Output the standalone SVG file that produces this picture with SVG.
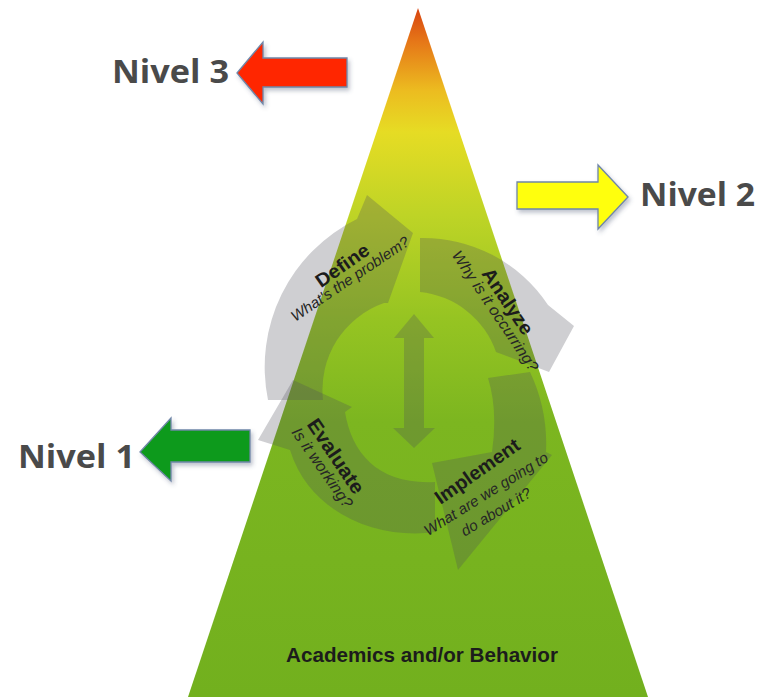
<svg xmlns="http://www.w3.org/2000/svg" width="762" height="698" viewBox="0 0 762 698">
<defs>
<linearGradient id="pyr" gradientUnits="userSpaceOnUse" x1="0" y1="8" x2="0" y2="697">
<stop offset="0" stop-color="#d84410"/>
<stop offset="0.05" stop-color="#e67818"/>
<stop offset="0.12" stop-color="#ecbc20"/>
<stop offset="0.18" stop-color="#e6dc24"/>
<stop offset="0.30" stop-color="#bed426"/>
<stop offset="0.45" stop-color="#96c422"/>
<stop offset="0.60" stop-color="#7cb620"/>
<stop offset="1" stop-color="#72b01e"/>
</linearGradient>
<filter id="sh" x="-20%" y="-30%" width="140%" height="160%">
<feDropShadow dx="2" dy="3" stdDeviation="2" flood-color="#405070" flood-opacity="0.35"/>
</filter>
</defs>
<style>
.cyc{fill:#4c4c58;fill-opacity:0.27}
.lvl{font-family:"Open Sans","Liberation Sans",sans-serif;font-weight:700;font-size:32px;fill:#4a4a4a}
.ttl{font-family:"Liberation Sans",Arial,sans-serif;font-weight:700;fill:#1c1c1c;text-anchor:middle}
.sub{font-family:"Liberation Sans",Arial,sans-serif;font-style:italic;fill:#262626;text-anchor:middle}
.big{stroke:#6f86a8;stroke-width:1.3;filter:url(#sh)}
</style>
<rect width="762" height="698" fill="#ffffff"/>
<g id="pyramid">
<polygon points="418,8 648,697 188,697" fill="url(#pyr)"/>
<text class="ttl" x="422" y="662" font-size="21" textLength="272" lengthAdjust="spacingAndGlyphs">Academics and/or Behavior</text>
</g>
<g id="connectors">
<path id="arrow-define" class="cyc" d="M268,400 A165,165 0 0 1 357,219 L367,195 L413,233 L388,303 L384,303 A92,92 0 0 0 323,400 Z"/>
<path id="arrow-analyze" class="cyc" d="M420,238 A150,150 0 0 1 548,305 L574,326 L549,372 L496,352 A90,90 0 0 0 420,292 Z"/>
<path id="arrow-implement" class="cyc" d="M530,372 Q548,410 546,452 L552,455 L458,570 L432,463 L492,452 Q498,410 488,378 Z"/>
<path id="arrow-evaluate" class="cyc" d="M435,532 C380,540 310,515 290,450 L258,440 L293,380 L352,407 L345,412 C352,455 380,485 435,482 Z"/>
<path id="arrow-center" class="cyc" d="M414,314 L434,338 L424,338 L424,428 L435,428 L414,448 L393,428 L404,428 L404,338 L394,338 Z"/>
</g>
<g id="node-define">
<text class="ttl" font-size="19" transform="translate(342,265) rotate(-35)" y="7" textLength="61" lengthAdjust="spacingAndGlyphs">Define</text>
<text class="sub" font-size="15" transform="translate(350,279) rotate(-34)" y="5" textLength="139" lengthAdjust="spacingAndGlyphs">What's the problem?</text>
</g>
<g id="node-analyze">
<text class="ttl" font-size="19.5" transform="translate(508,301) rotate(56)" y="7" textLength="76" lengthAdjust="spacingAndGlyphs">Analyze</text>
<text class="sub" font-size="15.5" transform="translate(495,311) rotate(56)" y="5" textLength="142" lengthAdjust="spacingAndGlyphs">Why is it occurring?</text>
</g>
<g id="node-evaluate">
<text class="ttl" font-size="20" transform="translate(336,456) rotate(56)" y="7" textLength="86" lengthAdjust="spacingAndGlyphs">Evaluate</text>
<text class="sub" font-size="16" transform="translate(322,468) rotate(55)" y="5" textLength="94" lengthAdjust="spacingAndGlyphs">Is it working?</text>
</g>
<g id="node-implement">
<text class="ttl" font-size="19.5" transform="translate(477,471) rotate(-35)" y="7" textLength="99" lengthAdjust="spacingAndGlyphs">Implement</text>
<text class="sub" font-size="15" transform="translate(486,494) rotate(-32)" y="5" textLength="143" lengthAdjust="spacingAndGlyphs">What are we going to</text>
<text class="sub" font-size="15" transform="translate(496,512) rotate(-31)" y="5" textLength="79" lengthAdjust="spacingAndGlyphs">do about it?</text>
</g>
<g id="node-nivel3">
<polygon class="big" points="237,73 263,42 263,58 347,58 347,87 263,87 263,104" fill="#ff2800"/>
<text class="lvl" x="112" y="83" textLength="117" lengthAdjust="spacingAndGlyphs">Nivel 3</text>
</g>
<g id="node-nivel2">
<polygon class="big" points="628,197 598,165 598,182 517,182 517,209 598,209 598,229" fill="#ffff10"/>
<text class="lvl" x="640" y="206" textLength="115" lengthAdjust="spacingAndGlyphs">Nivel 2</text>
</g>
<g id="node-nivel1">
<polygon class="big" points="140,452 171,418 171,430 250,430 250,462 171,462 171,481" fill="#0f9a1a"/>
<text class="lvl" x="18" y="468" textLength="117" lengthAdjust="spacingAndGlyphs">Nivel 1</text>
</g>
</svg>
